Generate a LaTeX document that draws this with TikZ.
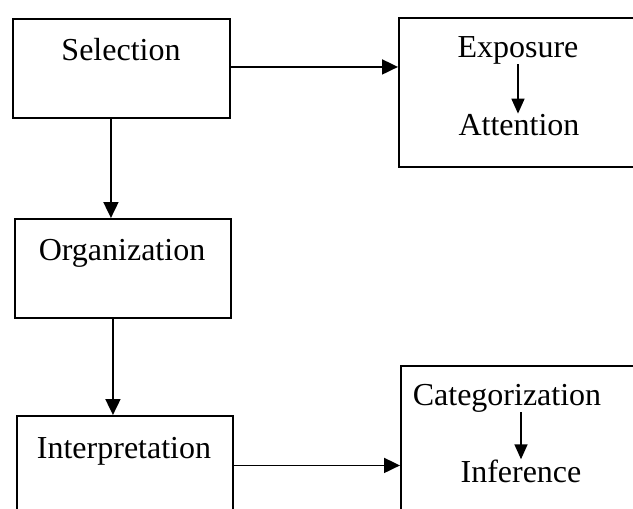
\documentclass[tikz,border=0pt]{standalone}
\usepackage{fontspec}
\setmainfont{Liberation Serif}
\usetikzlibrary{arrows.meta}
\begin{document}
\begin{tikzpicture}[x=1pt,y=-1pt,
  box/.style={draw, line width=1.9pt, rectangle, inner sep=0pt, anchor=north west},
  lbl/.style={inner sep=0pt, anchor=base, font=\fontsize{32}{38}\selectfont},
  arr/.style={line width=1.9pt, -{Triangle[length=16pt,width=15pt]}},
  inarr/.style={line width=1.7pt, -{Triangle[length=15pt,width=13pt]}}]
\useasboundingbox (0,0) rectangle (633,509);
\clip (0,0) rectangle (633,509);

% stage boxes
\node[box, minimum width=217pt, minimum height=99pt]  (sel)  at (12,18)  {};
\node[box, minimum width=216pt, minimum height=99pt]  (org)  at (14,218) {};
\node[box, minimum width=216pt, minimum height=99pt]  (intp) at (16,415) {};
\node[box, minimum width=240pt, minimum height=149pt] (expo) at (398,17) {};
\node[box, minimum width=240pt, minimum height=149pt] (cat)  at (400,365) {};

% labels
\node[lbl] (selt)  at (121,60)  {Selection};
\node[lbl] (orgt)  at (122,260) {Organization};
\node[lbl] (intpt) at (124,458) {Interpretation};
\node[lbl] (expt)  at (518,57)  {Exposure};
\node[lbl] (attt)  at (519,135) {Attention};
\node[lbl] (catt)  at (507,405) {Categorization};
\node[lbl] (inft)  at (521,482) {Inference};

% connectors between stages
\draw[arr] ([yshift=1.5pt]sel.east) -- ([yshift=1.5pt]sel.east -| expo.west);
\draw[arr] ([xshift=-10.5pt]sel.south) -- ([xshift=-10.5pt]sel.south |- org.north);
\draw[arr] ([xshift=-10pt]org.south) -- ([xshift=-10pt]org.south |- intp.north);
\draw[arr] (intp.east) -- (intp.east -| cat.west);

% steps inside the boxes
\draw[inarr] (expt.south) -- (expt.south |- attt.north);
\draw[inarr] (inft.north |- catt.south) -- (inft.north);
\end{tikzpicture}
\end{document}
